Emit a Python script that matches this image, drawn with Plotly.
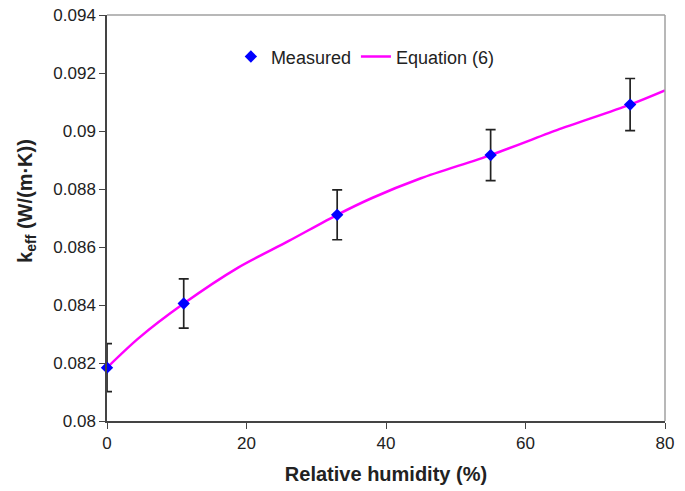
import plotly.graph_objects as go

# Measured data
rh_measured = [0, 11, 33, 55, 75]
k_measured = [0.08184, 0.08405, 0.08711, 0.08917, 0.09091]
k_error = [0.00083, 0.00085, 0.00086, 0.00088, 0.0009]

# Equation (6) curve
rh_eq = [0, 4.5, 11, 18.8, 26, 33, 38, 45, 55, 64.5, 75, 80]
k_eq = [0.08184, 0.08285, 0.08405, 0.08529, 0.0862, 0.08711, 0.08769, 0.08837,
        0.08917, 0.09003, 0.09091, 0.0914]

x_ticks = [0, 20, 40, 60, 80]
y_ticks = [0.08, 0.082, 0.084, 0.086, 0.088, 0.09, 0.092, 0.094]
y_ticklabels = ["0.08", "0.082", "0.084", "0.086", "0.088", "0.09", "0.092", "0.094"]

fig = go.Figure()
fig.add_trace(go.Scatter(
    x=rh_eq, y=k_eq, mode="lines", name="Equation (6)", line_shape="spline",
    line=dict(color="#ff00ff", width=2.5, smoothing=0.8),
))
fig.add_trace(go.Scatter(
    x=rh_measured, y=k_measured, mode="markers", name="Measured", cliponaxis=False,
    marker=dict(symbol="diamond", size=9.5, color="#0000ff"),
    error_y=dict(type="data", array=k_error, visible=True, color="#222222", thickness=1.7, width=5),
))

font_family = "Liberation Sans, Arial, sans-serif"
fig.update_layout(
    width=685, height=491,
    margin=dict(l=107, r=20, t=15, b=70),
    paper_bgcolor="white", plot_bgcolor="white",
    font=dict(family=font_family, size=17, color="#222222"),
    showlegend=True,
    legend=dict(orientation="h", x=0.222, xanchor="left", y=0.897, yanchor="middle",
                font=dict(size=18, color="#222222"), bgcolor="rgba(0,0,0,0)",
                traceorder="reversed", itemwidth=30),
    xaxis=dict(range=[0, 80], tickvals=x_ticks, showgrid=False, zeroline=False,
               showline=True, linecolor="#444444", linewidth=1.5, automargin=False,
               ticks="outside", ticklen=6, tickcolor="#444444",
               tickfont=dict(size=17),
               title=dict(text="<b>Relative humidity (%)</b>", font=dict(size=20), standoff=15)),
    yaxis=dict(range=[0.08, 0.094], tickvals=y_ticks, ticktext=y_ticklabels, showgrid=False,
               zeroline=False, showline=True, linecolor="#444444", linewidth=1.5, automargin=False,
               ticks="outside", ticklen=6, tickcolor="#444444",
               tickfont=dict(size=17)),
    annotations=[
        dict(text="<b>k<sub>eff</sub> (W/(m·K))</b>", xref="paper", yref="paper",
             x=-0.1434, y=0.542, xanchor="center", yanchor="middle", textangle=-90,
             showarrow=False, font=dict(size=20, color="#222222")),
    ],
    shapes=[
        dict(type="line", xref="paper", yref="paper", x0=0, x1=1, y0=1, y1=1,
             line=dict(color="#a0a0a0", width=1.5)),
        dict(type="line", xref="paper", yref="paper", x0=1, x1=1, y0=0, y1=1,
             line=dict(color="#a0a0a0", width=1.5)),
    ],
)
fig.write_html("out.html")
